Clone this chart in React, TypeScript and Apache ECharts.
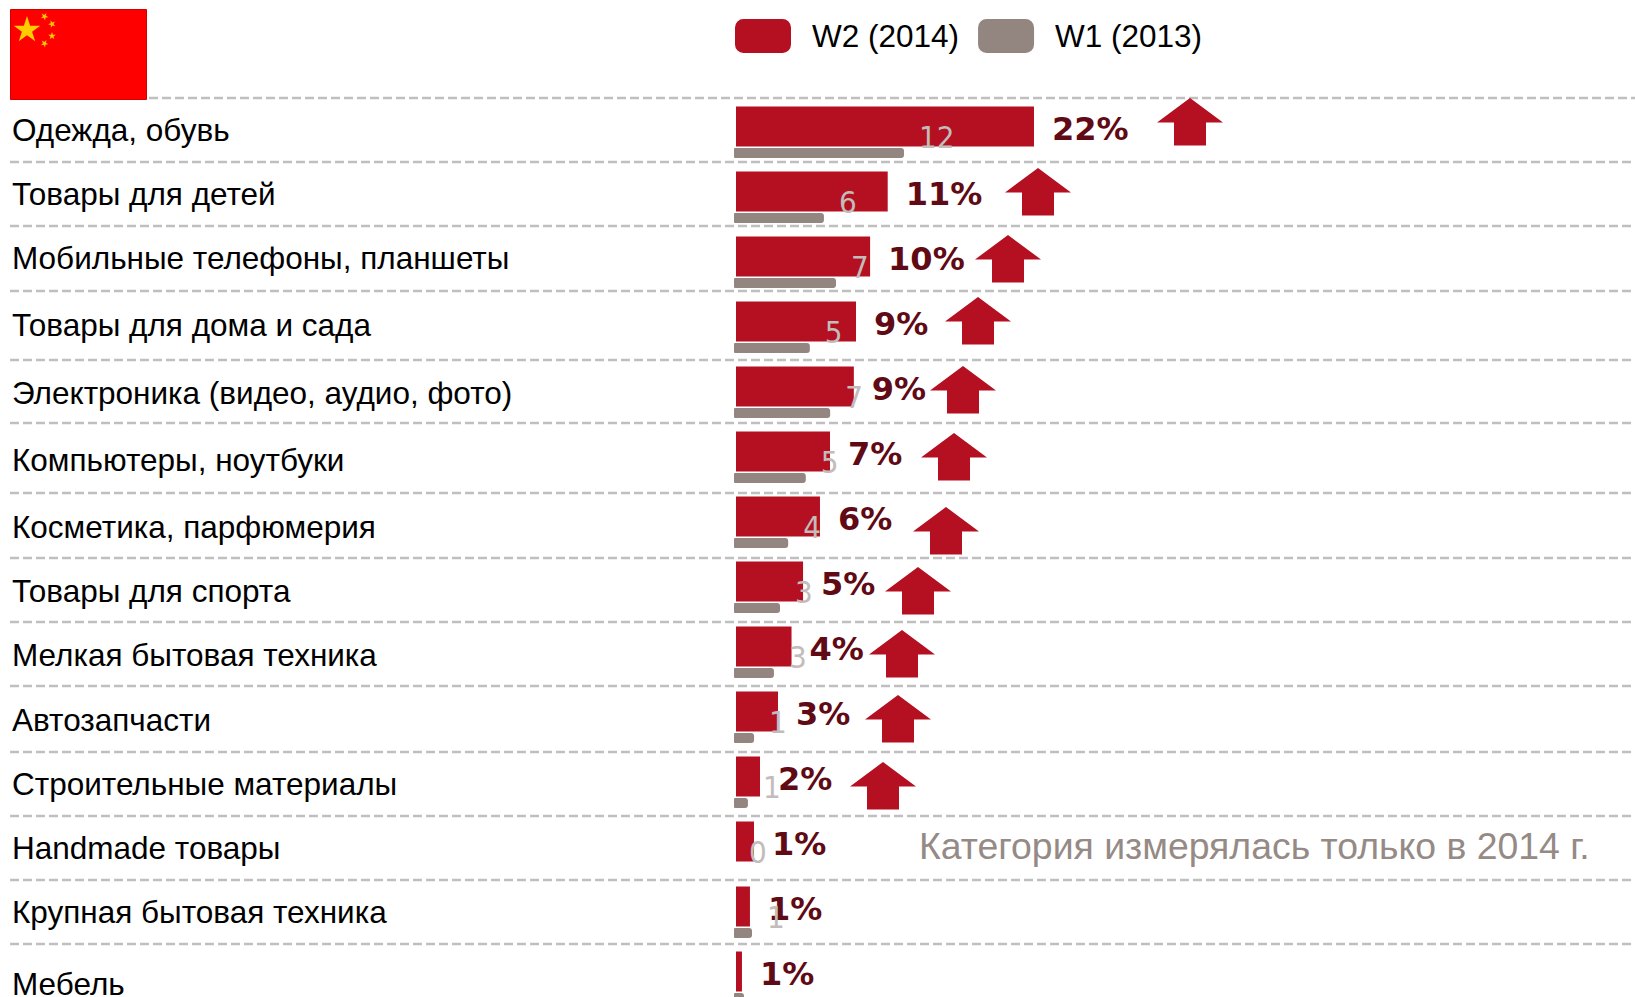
import React, { useEffect, useRef } from "react";
import * as echarts from "echarts";

const categories = ["Одежда, обувь","Товары для детей","Мобильные телефоны, планшеты","Товары для дома и сада","Электроника (видео, аудио, фото)","Компьютеры, ноутбуки","Косметика, парфюмерия","Товары для спорта","Мелкая бытовая техника","Автозапчасти","Строительные материалы","Handmade товары","Крупная бытовая техника","Мебель"];
const w2Values = [22, 11.2, 9.9, 8.86, 8.7, 6.94, 6.2, 4.95, 4.1, 3.1, 1.77, 1.33, 1.03, 0.44];
const w2Labels = ["22%","11%","10%","9%","9%","7%","6%","5%","4%","3%","2%","1%","1%","1%"];
const w1Values = [12.55, 6.64, 7.53, 5.6, 7.1, 5.3, 4.0, 3.4, 2.95, 1.48, 1.03, 0, 1.33, 0.74];
const w1Labels = ["12","6","7","5","7","5","4","3","3","1","1","0","1",""];
const seriesNames = ["W2 (2014)", "W1 (2013)"];
const note = "Категория измерялась только в 2014 г.";

// layout (pixels)
const rowTextY = [130,194,258,325,393,460,527,591,655,720,784,848,912,984];
const sepY = [98,162,226,291,360,423,493,558,622,686,752,816,880,944];
const arrowX = [1190,1038,1008,978,963,954,946,918,902,898,883];
const arrowTop = [98,168,235,297,366,433,507,567,630,695,762];

const RED = "#b51021";
const GREY = "#938680";
const AXIS_MAX = 60;
const UNIT = 13.545;

function star(cx: number, cy: number, r: number, rot = 0) {
  const pts: number[][] = [];
  for (let i = 0; i < 10; i++) {
    const rad = i % 2 ? r * 0.382 : r;
    const a = -Math.PI / 2 + rot + (i * Math.PI) / 5;
    pts.push([cx + rad * Math.cos(a), cy + rad * Math.sin(a)]);
  }
  return { type: "polygon", shape: { points: pts }, style: { fill: "#ffcc00" } };
}

function arrow(cx: number, top: number) {
  const pts = [[cx, top],[cx + 33, top + 24.5],[cx + 16, top + 24.5],[cx + 16, top + 47.5],[cx - 16, top + 47.5],[cx - 16, top + 24.5],[cx - 33, top + 24.5]];
  return { type: "polygon", shape: { points: pts }, style: { fill: RED } };
}

export default function App() {
  const ref = useRef<HTMLDivElement>(null);
  useEffect(() => {
    document.body.style.margin = "0";
    const chart = echarts.init(ref.current!, undefined, { renderer: "svg" });
    const graphics: any[] = [
      { type: "rect", shape: { x: 10.5, y: 9.5, width: 136, height: 90 }, style: { fill: "#ff0000", stroke: "#d40000", lineWidth: 1 } },
      star(27, 30, 14), star(44.5, 16.5, 4, 0.5), star(52, 24, 4, 0.9), star(52, 36, 4, 0), star(44.5, 43.5, 4, 0.5),
      ...sepY.map((y, i) => ({ type: "line", shape: { x1: i === 0 ? 149 : 10, y1: y, x2: 1635, y2: y }, style: { stroke: "#bfbfbf", lineWidth: 2.5, lineDash: [9, 4] } })),
      ...categories.map((c, i) => ({ type: "text", x: 12, y: rowTextY[i], style: { text: c, fontFamily: "Liberation Sans", fontSize: 31.5, fill: "#000", verticalAlign: "middle" } })),
      ...arrowX.map((x, i) => arrow(x, arrowTop[i])),
      { type: "text", x: 919, y: 846, style: { text: note, fontFamily: "Liberation Sans", fontSize: 37.4, fill: "#958a85", verticalAlign: "middle" } },
    ];
    const yAxisBase = { type: "category", data: categories, inverse: true, axisLine: { show: false }, axisTick: { show: false }, axisLabel: { show: false }, splitLine: { show: false } };
    const xAxisBase = { type: "value", min: 0, max: AXIS_MAX, show: false };
    chart.setOption({
      animation: false,
      backgroundColor: "#fff",
      legend: {
        left: 730, top: 14, itemWidth: 56, itemHeight: 34, itemGap: 19, icon: "roundRect", selectedMode: false,
        data: seriesNames,
        textStyle: { fontFamily: "Liberation Sans", fontSize: 31.5, color: "#000", padding: [4, 0, 0, 16] },
      },
      grid: [
        { left: 736, top: 94, width: AXIS_MAX * UNIT, height: 910, outerBoundsMode: "none" },
        { left: 734, top: 120.5, width: AXIS_MAX * UNIT, height: 910, outerBoundsMode: "none" },
      ],
      xAxis: [{ ...xAxisBase, gridIndex: 0 }, { ...xAxisBase, gridIndex: 1 }],
      yAxis: [{ ...yAxisBase, gridIndex: 0 }, { ...yAxisBase, gridIndex: 1 }],
      series: [
        {
          name: seriesNames[0], type: "bar", xAxisIndex: 0, yAxisIndex: 0, data: w2Values, barWidth: 40, z: 2,
          itemStyle: { color: RED },
          label: {
            show: true, position: "right", distance: 18, offset: [0, 2.5],
            formatter: (p: any) => w2Labels[p.dataIndex],
            fontFamily: "DejaVu Sans", fontWeight: "bold", fontSize: 32, color: "#5f0a14",
          },
        },
        {
          name: seriesNames[1], type: "bar", xAxisIndex: 1, yAxisIndex: 1, data: w1Values, barWidth: 10, z: 3,
          itemStyle: { color: GREY, borderRadius: [1, 3, 3, 1] },
          label: {
            show: true, position: "right", distance: 15, offset: [0, -16],
            formatter: (p: any) => w1Labels[p.dataIndex],
            fontFamily: "DejaVu Sans Condensed, DejaVu Sans", fontSize: 31, color: "#c2bcba",
          },
        },
      ],
      graphic: graphics,
    });
    return () => chart.dispose();
  }, []);
  return <div ref={ref} style={{ position: "fixed", left: 0, top: 0, width: 1635, height: 997 }} />;
}
